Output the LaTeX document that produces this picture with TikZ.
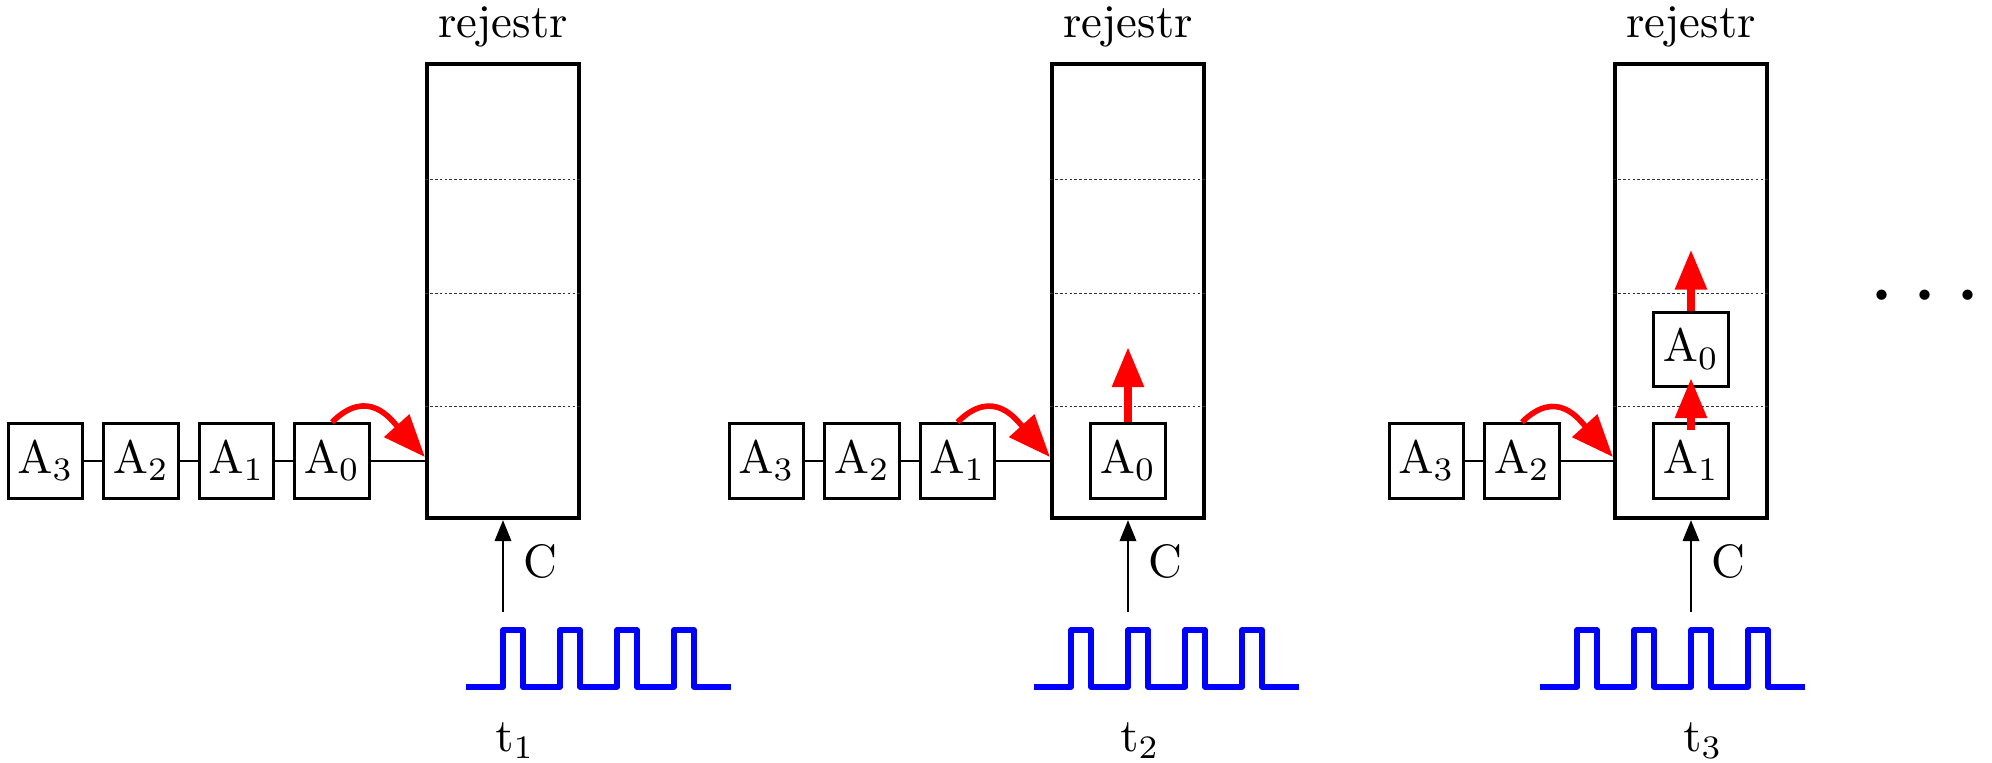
\documentclass[tikz,border=0pt]{standalone}
\usetikzlibrary{arrows.meta,positioning}
\begin{document}
\begin{tikzpicture}[x=0.75cm,y=0.75cm,
  abox/.style={draw, line width=0.6pt, minimum size=0.56cm, inner sep=0pt},
  reg/.style={draw, line width=0.9pt, minimum width=1.14cm, minimum height=3.405cm},
  cellsep/.style={line width=0.25pt, black!80, dash pattern=on 0.6pt off 0.45pt},
  link/.style={line width=0.4pt},
  wave/.style={blue, line width=1.1pt, line join=round},
  clk/.style={line width=0.55pt, -{Triangle[length=4.5pt,width=3.5pt]}},
  move/.style={red, line width=1.6pt, -{Triangle[length=8.5pt,width=6.5pt]}},
  load/.style={red, line width=1.2pt, -{Triangle[length=9pt,width=7pt]}, out=45, in=132, looseness=1.3}]
\useasboundingbox (0,0) rectangle (19.92,7.63);
\def\cell{0.85125cm} % hauteur d'une case du registre

% les trois registres avec leur horloge
\foreach \x/\k in {5.03/1, 11.28/2, 16.91/3}{
  \node[reg] (reg\k) at (\x,4.72) {};
  \foreach \j in {1,2,3}
    \draw[cellsep] ([yshift=\j*\cell]reg\k.south west) -- ([yshift=\j*\cell]reg\k.south east);
  \node (nom\k) at (\x,7.36) {rejestr};
  \coordinate (h\k) at (\x,1.51);
  \draw[clk] (h\k) -- (reg\k.south);
  \node (c\k) at (\x+0.37,2.01) {C};
  \node (t\k) at (\x+0.12,0.22) {$\mathrm{t}_{\k}$};
  \draw[wave] (\x-\k*0.57+0.2,0.76) \foreach \i in {1,...,4} {-- ++(0.37,0) -- ++(0,0.57) -- ++(0.2,0) -- ++(0,-0.57)} -- ++(0.37,0);
}

% t1
\node[abox] (p1a0) at (3.32,3.02) {$\mathrm{A}_0$};
\node[abox, left=0.135cm of p1a0] (p1a1) {$\mathrm{A}_1$};
\node[abox, left=0.135cm of p1a1] (p1a2) {$\mathrm{A}_2$};
\node[abox, left=0.135cm of p1a2] (p1a3) {$\mathrm{A}_3$};
\coordinate (e1) at (p1a0 -| reg1.west);
\draw[link] (p1a3) -- (p1a2) -- (p1a1) -- (p1a0) -- (e1);
\draw[load] (p1a0.north) to ([yshift=0.03cm]e1);

% t2
\node[abox] (p2a1) at (9.575,3.02) {$\mathrm{A}_1$};
\node[abox, left=0.135cm of p2a1] (p2a2) {$\mathrm{A}_2$};
\node[abox, left=0.135cm of p2a2] (p2a3) {$\mathrm{A}_3$};
\node[abox] (p2a0) at (11.28,3.02) {$\mathrm{A}_0$};
\coordinate (e2) at (p2a1 -| reg2.west);
\draw[link] (p2a3) -- (p2a2) -- (p2a1) -- (e2);
\draw[load] (p2a1.north) to ([yshift=0.03cm]e2);
\draw[move] (p2a0.north) -- ++(0,0.75);

% t3
\node[abox] (p3a2) at (15.22,3.02) {$\mathrm{A}_2$};
\node[abox, left=0.135cm of p3a2] (p3a3) {$\mathrm{A}_3$};
\node[abox] (p3a1) at (16.91,3.02) {$\mathrm{A}_1$};
\node[abox] (p3a0) at (16.91,4.135) {$\mathrm{A}_0$};
\coordinate (e3) at (p3a2 -| reg3.west);
\draw[link] (p3a3) -- (p3a2) -- (e3);
\draw[load] (p3a2.north) to ([yshift=0.03cm]e3);
\draw[move] ([yshift=-0.06cm]p3a1.north) -- ([yshift=0.075cm]p3a0.south);
\draw[move] (p3a0.north) -- ++(0,0.61);

\node (suite) at (19.25,4.65) {\fontsize{20.74}{24}\selectfont$\cdots$};
\end{tikzpicture}
\end{document}
